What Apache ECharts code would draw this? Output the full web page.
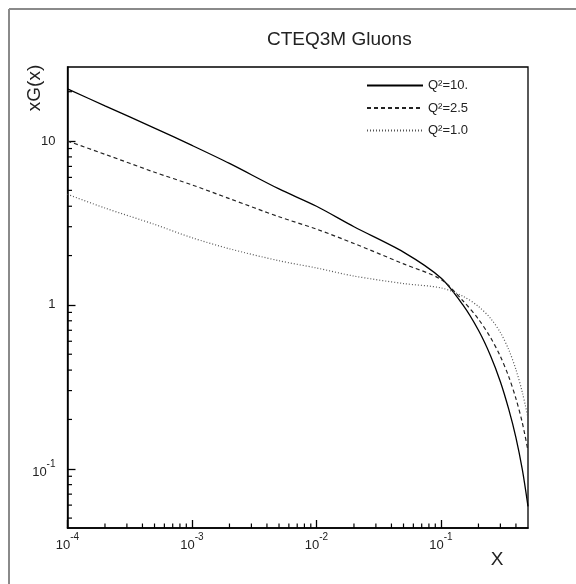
<!DOCTYPE html>
<html>
<head>
<meta charset="utf-8">
<script src="https://cdn.jsdelivr.net/npm/echarts@6/dist/echarts.min.js"></script>
<style>html,body{margin:0;padding:0;background:#fff;}#chart{width:576px;height:584px;}</style>
</head>
<body>
<div id="chart"></div>
<script>
// ---- data ----
const xValues   = [1e-4, 2e-4, 5e-4, 1e-3, 2e-3, 5e-3, 1e-2, 2e-2, 5e-2, 0.1, 0.15, 0.2, 0.25, 0.3, 0.35, 0.4, 0.45, 0.5];
const gluonQ10  = [20.8, 16.4, 12.0, 9.4, 7.3, 5.1, 4.0, 3.0, 2.1, 1.46, 1.0, 0.70, 0.49, 0.34, 0.231, 0.155, 0.099, 0.059];
const gluonQ25  = [10.0, 8.3, 6.45, 5.4, 4.45, 3.45, 2.9, 2.37, 1.78, 1.43, 1.06, 0.818, 0.632, 0.485, 0.365, 0.268, 0.191, 0.129];
const gluonQ1   = [4.73, 3.9, 3.1, 2.57, 2.2, 1.86, 1.68, 1.5, 1.35, 1.27, 1.13, 0.978, 0.828, 0.678, 0.533, 0.403, 0.293, 0.205];
const seriesNames = ['Q\u00B2=10.', 'Q\u00B2=2.5', 'Q\u00B2=1.0'];
const titleText = 'CTEQ3M Gluons';
const yName = 'xG(x)';
const xName = 'X';
const X_MIN = 1e-4, X_MAX = 0.5;
const Y_MIN = 0.0435, Y_MAX = 28.3;
const xDecades = [-4, -3, -2, -1];
const yDecades = [-2, -1, 0, 1];
const minorMultipliers = [2, 3, 4, 5, 6, 7, 8, 9];

const xMinor = [];
xDecades.forEach(k => minorMultipliers.forEach(m => { const v = m * Math.pow(10, k); if (v > X_MIN && v < X_MAX) xMinor.push(v); }));
const yMinor = [];
yDecades.forEach(k => minorMultipliers.forEach(m => { const v = m * Math.pow(10, k); if (v > Y_MIN && v < Y_MAX) yMinor.push(v); }));

function powLabel(v, plainSmall) {
  const lg = Math.log10(v);
  const e = Math.round(lg);
  if (Math.abs(lg - e) > 1e-6) return '';
  if (plainSmall && e === 0) return '1';
  if (plainSmall && e === 1) return '10';
  return '{b|10}{s|' + e + '}';
}
const FONT = 'Liberation Sans';
const richSup = {
  b: { fontSize: 13, fontFamily: FONT, color: '#222', lineHeight: 20, verticalAlign: 'bottom' },
  s: { fontSize: 10, fontFamily: FONT, color: '#222', lineHeight: 10, verticalAlign: 'top' }
};

const chart = echarts.init(document.getElementById('chart'), null, { renderer: 'canvas' });

const lineStyles = [
  { color: '#000', width: 1.3, type: 'solid' },
  { color: '#222', width: 1.2, type: [4, 3] },
  { color: '#555', width: 1.2, type: [1, 2] }
];
const curves = [gluonQ10, gluonQ25, gluonQ1];

const option = {
  backgroundColor: '#fff',
  animation: false,
  title: {
    text: titleText, left: 262, top: 25,
    textStyle: { fontSize: 19, fontWeight: 'normal', fontFamily: FONT, color: '#222' }
  },
  legend: {
    orient: 'vertical', left: 366, top: 79, itemWidth: 56, itemHeight: 14, itemGap: 9.5,
    padding: 0,
    itemStyle: { opacity: 0 },
    textStyle: { fontSize: 13, fontFamily: FONT, color: '#222' },
    data: seriesNames
  },
  grid: { left: 67.5, right: 48, top: 67, bottom: 56, show: true, borderColor: '#000', borderWidth: 1.3, backgroundColor: 'transparent' },
  xAxis: {
    type: 'log', min: X_MIN, max: X_MAX, logBase: 10,
    axisLine: { show: true, lineStyle: { color: '#000', width: 1.5 } },
    axisTick: { show: true, inside: true, length: 8, lineStyle: { color: '#000', width: 1.3 } },
    splitLine: { show: false },
    axisLabel: { margin: 4, formatter: v => powLabel(v, false), rich: richSup, showMaxLabel: false }
  },
  yAxis: {
    type: 'log', min: Y_MIN, max: Y_MAX, logBase: 10,
    axisLine: { show: true, lineStyle: { color: '#000', width: 1.5 } },
    axisTick: { show: true, inside: true, length: 8, lineStyle: { color: '#000', width: 1.3 } },
    splitLine: { show: false },
    axisLabel: { margin: 12, formatter: v => powLabel(v, true), rich: richSup, fontSize: 13, fontFamily: FONT, color: '#222', showMinLabel: false, showMaxLabel: false }
  },
  graphic: [
    { type: 'line', shape: { x1: 9, y1: 9, x2: 576, y2: 9 }, style: { stroke: '#8a8a8a', lineWidth: 2 } },
    { type: 'line', shape: { x1: 9, y1: 9, x2: 9, y2: 584 }, style: { stroke: '#8a8a8a', lineWidth: 2 } },
    { type: 'text', x: 35, y: 88, rotation: Math.PI / 2, style: { text: yName, fontSize: 19, fontFamily: FONT, fill: '#222', align: 'center', verticalAlign: 'middle' } },
    { type: 'text', x: 497, y: 560, style: { text: xName, fontSize: 19, fontFamily: FONT, fill: '#222', align: 'center', verticalAlign: 'middle' } }
  ],
  series: curves.map((vals, k) => ({
    name: seriesNames[k], type: 'line', showSymbol: false, symbol: 'none', smooth: 0.3,
    lineStyle: lineStyles[k], itemStyle: { color: lineStyles[k].color },
    data: xValues.map((x, i) => [x, vals[i]])
  })).concat([
    { type: 'custom', silent: true, clip: false, z: 5,
      renderItem: (params, api) => {
        const p = api.coord([api.value(0), api.value(1)]);
        return { type: 'line', shape: { x1: p[0], y1: p[1], x2: p[0], y2: p[1] - 4.5 }, style: { stroke: '#000', lineWidth: 1.2 } };
      },
      data: xMinor.map(v => [v, Y_MIN]) },
    { type: 'custom', silent: true, clip: false, z: 5,
      renderItem: (params, api) => {
        const p = api.coord([api.value(0), api.value(1)]);
        return { type: 'line', shape: { x1: p[0], y1: p[1], x2: p[0] + 4.5, y2: p[1] }, style: { stroke: '#000', lineWidth: 1.2 } };
      },
      data: yMinor.map(v => [X_MIN, v]) }
  ])
};
chart.setOption(option);
</script>
</body>
</html>
